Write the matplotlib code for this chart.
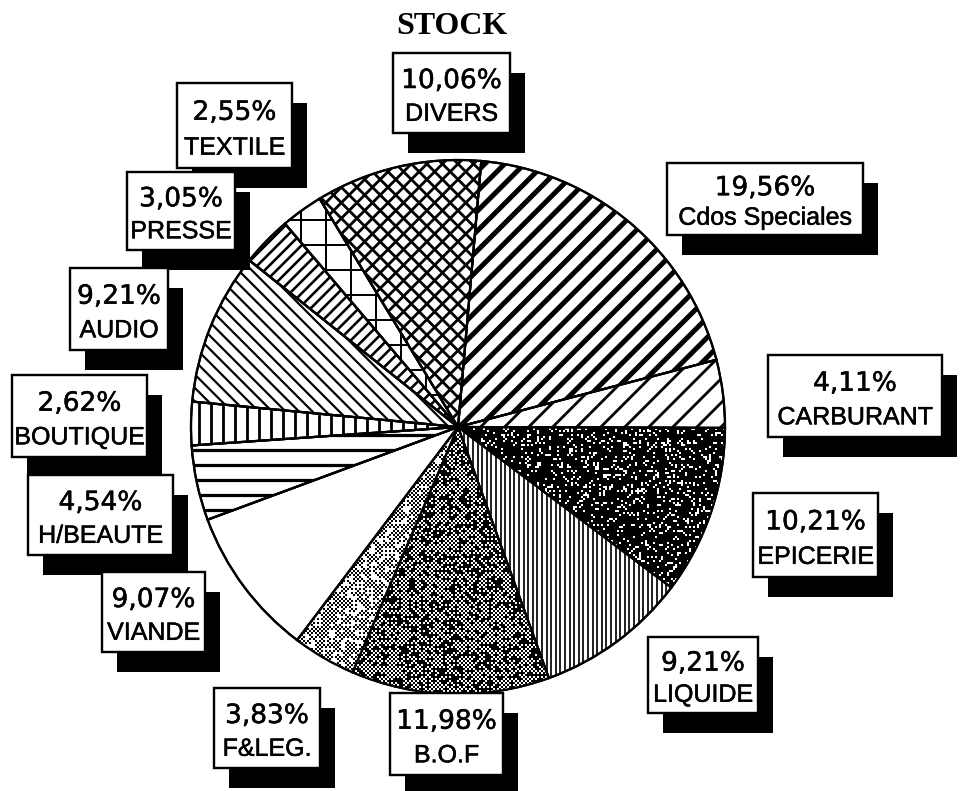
import numpy as np
import matplotlib
matplotlib.use("Agg")
import matplotlib.pyplot as plt
import matplotlib.patheffects as pe
from matplotlib.patches import Rectangle, Wedge
from matplotlib.collections import LineCollection

# ---- data -------------------------------------------------------------
categories = ["Cdos Speciales", "CARBURANT", "EPICERIE", "LIQUIDE", "B.O.F",
              "F&LEG.", "VIANDE", "H/BEAUTE", "BOUTIQUE", "AUDIO",
              "PRESSE", "TEXTILE", "DIVERS"]
shares = [19.56, 4.11, 10.21, 9.21, 11.98, 3.83, 9.07, 4.54, 2.62, 9.21,
          3.05, 2.55, 10.06]
title = "STOCK"

# ---- layout (pixel coordinates, origin top-left) ----------------------
W, H = 963, 791
CX, CY, R = 458, 427, 267

label_boxes = {
    "Cdos Speciales": (667, 163, 863, 235),
    "CARBURANT": (768, 355, 942, 437),
    "EPICERIE": (753, 493, 878, 577),
    "LIQUIDE": (648, 637, 758, 713),
    "B.O.F": (390, 693, 503, 775),
    "F&LEG.": (214, 688, 320, 768),
    "VIANDE": (102, 572, 205, 652),
    "H/BEAUTE": (28, 475, 173, 555),
    "BOUTIQUE": (12, 375, 147, 457),
    "AUDIO": (70, 268, 168, 350),
    "PRESSE": (127, 172, 235, 250),
    "TEXTILE": (177, 83, 292, 168),
    "DIVERS": (393, 53, 510, 133),
}

# fill style per slice: line hatches (screen angle, pitch px, width px) or textures
fills = {
    "Cdos Speciales": ("lines", [(45, 14, 5.0)]),
    "CARBURANT": ("lines", [(45, 17, 2.8)]),
    "EPICERIE": ("texture", "dark"),
    "LIQUIDE": ("lines", [(90, 4.6, 1.7)]),
    "B.O.F": ("texture", "mid"),
    "F&LEG.": ("texture", "light"),
    "VIANDE": ("none", None),
    "H/BEAUTE": ("lines", [(0, 15, 3.2)]),
    "BOUTIQUE": ("lines", [(90, 12, 2.8)]),
    "AUDIO": ("lines", [(-45, 9.5, 2.2)]),
    "PRESSE": ("lines", [(45, 8.5, 2.6)]),
    "TEXTILE": ("lines", [(0, 25, 2.0), (90, 25, 2.0)]),
    "DIVERS": ("lines", [(45, 11, 2.8), (-45, 11, 2.8)]),
}

PX = 72 / 100  # points per pixel at dpi=100

fig = plt.figure(figsize=(W / 100, H / 100), dpi=100)
ax = fig.add_axes([0, 0, 1, 1])

# y axis points down, so counter-clockwise in data is clockwise on screen
wedges, _ = ax.pie(shares, startangle=-85, counterclock=True,
                   center=(CX, CY), radius=R,
                   wedgeprops=dict(facecolor="white", edgecolor="black",
                                   linewidth=2.2 * PX))


def line_hatch(wedge, angle, pitch, width):
    a = np.deg2rad(-angle)
    d = np.array([np.cos(a), np.sin(a)])
    n = np.array([-d[1], d[0]])
    offs = np.arange(-1.15 * R, 1.15 * R, pitch)
    L = 1.3 * R
    segs = [[(CX + n[0] * o - d[0] * L, CY + n[1] * o - d[1] * L),
             (CX + n[0] * o + d[0] * L, CY + n[1] * o + d[1] * L)] for o in offs]
    lc = LineCollection(segs, colors="black", linewidths=width * PX,
                        zorder=2, capstyle="butt")
    ax.add_collection(lc)
    lc.set_clip_path(wedge)


# stipple textures on a 2-pixel grid covering the disc (integer hash dither)
N = R + 4
ii, jj = np.indices((N, N)).astype(np.uint64)
h = (ii * np.uint64(374761393) + jj * np.uint64(668265263)) & np.uint64(0xFFFFFFFF)
h = ((h ^ (h >> np.uint64(13))) * np.uint64(1274126177)) & np.uint64(0xFFFFFFFF)
h = h ^ (h >> np.uint64(16))
u = (h % np.uint64(1000)).astype(float) / 1000.0
checker = ((ii + jj) % np.uint64(2)) == 0
textures = {
    "mid": checker | (u < 0.3),
    "light": checker & (u < 0.75),
    "dark": u < 0.84,
}


def texture_fill(wedge, kind):
    img = np.where(textures[kind], 0.0, 1.0)
    im = ax.imshow(img, cmap="gray", vmin=0, vmax=1, interpolation="nearest",
                   extent=(CX - R - 4, CX + R + 4, CY + R + 4, CY - R - 4),
                   zorder=2, aspect="auto")
    im.set_clip_path(wedge)


for name, w in zip(categories, wedges):
    kind, spec = fills[name]
    if kind == "lines":
        for ang, pitch, width in spec:
            line_hatch(w, ang, pitch, width)
    elif kind == "texture":
        texture_fill(w, spec)
    # outline on top of the fill
    ax.add_patch(Wedge(w.center, w.r, w.theta1, w.theta2, fill=False,
                       edgecolor="black", linewidth=2.2 * PX, zorder=3))

# ---- label boxes with drop shadows ------------------------------------
SDX, SDY = 15, 20
thick = [pe.withStroke(linewidth=0.35, foreground="black")]
for name, v in zip(categories, shares):
    x0, y0, x1, y1 = label_boxes[name]
    bw, bh = x1 - x0, y1 - y0
    ax.add_patch(Rectangle((x0 + SDX, y0 + SDY), bw, bh, facecolor="black",
                           edgecolor="none", zorder=5))
    ax.add_patch(Rectangle((x0, y0), bw, bh, facecolor="white",
                           edgecolor="black", linewidth=2.4 * PX, zorder=6))
    pct = f"{v:.2f}%".replace(".", ",")
    ax.text((x0 + x1) / 2, y0 + 0.35 * bh, pct, ha="center", va="center",
            family="DejaVu Sans", fontsize=19, zorder=7, path_effects=thick)
    ax.text((x0 + x1) / 2, y0 + 0.76 * bh, name, ha="center", va="center",
            family="Liberation Sans", fontsize=18, zorder=7,
            path_effects=thick)

ax.text(452, 27, title, ha="center", va="center", family="Liberation Serif",
        fontweight="bold", fontsize=23)

ax.set_xlim(0, W)
ax.set_ylim(H, 0)
ax.set_aspect("auto")
ax.axis("off")

fig.savefig("out.png", dpi=100, facecolor="white")
